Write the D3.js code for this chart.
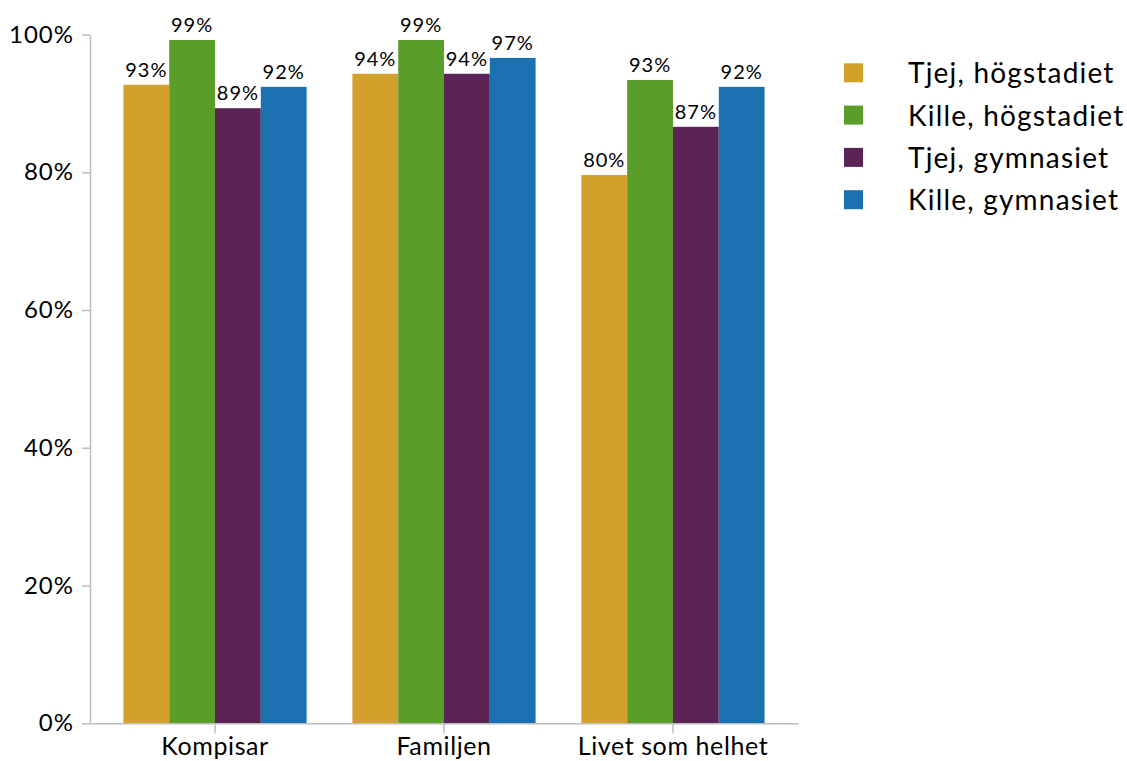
<!DOCTYPE html>
<html>
<head>
<meta charset="utf-8">
<script src="https://cdn.jsdelivr.net/npm/d3@7"></script>
<style>
  body { margin: 0; background: #fff; }
  svg { display: block; font-family: Lato, "Open Sans", sans-serif; }
</style>
</head>
<body>
<svg id="chart" width="1127" height="761"></svg>
<script>
const categories = ["Kompisar", "Familjen", "Livet som helhet"];
const seriesNames = ["Tjej, högstadiet", "Kille, högstadiet", "Tjej, gymnasiet", "Kille, gymnasiet"];
const tjejHog = [0.927, 0.943, 0.796];
const killeHog = [0.992, 0.992, 0.934];
const tjejGym = [0.893, 0.943, 0.866];
const killeGym = [0.924, 0.966, 0.924];
const yTicks = [0, 0.2, 0.4, 0.6, 0.8, 1.0];
const colors = ["#D4A02C", "#5A9D29", "#5A2457", "#1B71B0"];

const seriesValues = [tjejHog, killeHog, tjejGym, killeGym];
const svg = d3.select("#chart");
const pct = v => Math.round(v * 100) + "%";

const x0 = d3.scaleBand().domain(categories).range([90, 798]).paddingInner(0.2).paddingOuter(0.146);
const x1 = d3.scaleBand().domain(seriesNames).range([0, x0.bandwidth()]);
const y = d3.scaleLinear().domain([0, 1]).range([723.3, 34.5]);

// bars
categories.forEach((c, ci) => {
  const g = svg.append("g").attr("transform", `translate(${x0(c)},0)`);
  seriesNames.forEach((s, si) => {
    const v = seriesValues[si][ci];
    g.append("rect")
      .attr("x", x1(s)).attr("width", x1.bandwidth())
      .attr("y", y(v)).attr("height", y(0) - y(v))
      .attr("fill", colors[si]);
    g.append("text")
      .attr("x", x1(s) + x1.bandwidth() / 2)
      .attr("y", y(v) - 8)
      .attr("text-anchor", "middle")
      .attr("font-size", 20)
      .attr("letter-spacing", 1)
      .attr("fill", "#000")
      .text(pct(v));
  });
});

// y axis
const yAxis = svg.append("g").attr("transform", "translate(90,0)")
  .call(d3.axisLeft(y).tickValues(yTicks).tickFormat(pct).tickSize(8).tickSizeOuter(0).tickPadding(8));
yAxis.selectAll("text").attr("font-size", 24).attr("letter-spacing", 1).attr("fill", "#000").attr("font-family", "Lato, sans-serif");
yAxis.selectAll("line, path").attr("stroke", "#bdbdbd").attr("stroke-width", 1.5);

// x axis
const xAxis = svg.append("g").attr("transform", `translate(0,${y(0)})`)
  .call(d3.axisBottom(x0).tickSize(10).tickSizeOuter(0).tickPadding(4));
xAxis.selectAll("text").attr("font-size", 25).attr("letter-spacing", 0.6).attr("fill", "#000").attr("font-family", "Lato, sans-serif");
xAxis.selectAll("line, path").attr("stroke", "#bdbdbd").attr("stroke-width", 1.5);

// legend
const legend = svg.append("g");
seriesNames.forEach((s, i) => {
  const ly = 63.3 + i * 42.3;
  legend.append("rect").attr("x", 844).attr("y", ly).attr("width", 19).attr("height", 19).attr("fill", colors[i]);
  legend.append("text").attr("x", 908).attr("y", ly + 20)
    .attr("font-size", 28).attr("letter-spacing", 1.2).attr("fill", "#000").text(s);
});
</script>
</body>
</html>
